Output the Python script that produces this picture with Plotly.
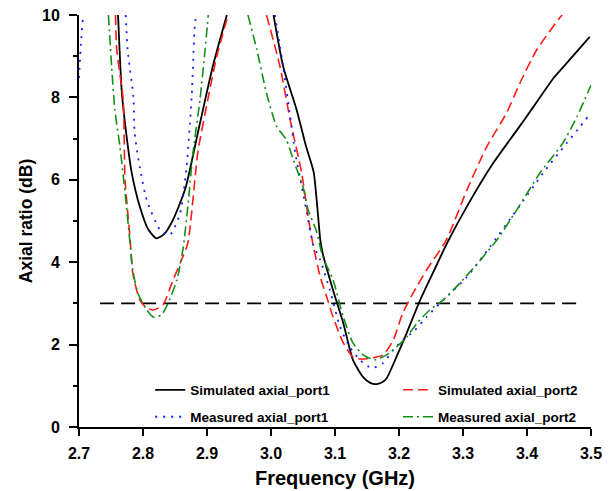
import plotly.graph_objects as go

# ---------------- data ----------------
sim1_f = [2.761, 2.767, 2.774, 2.782, 2.795, 2.808, 2.821, 2.833, 2.846, 2.857, 2.867, 2.888, 2.909, 2.931, None,
          3.004, 3.019, 3.040, 3.055, 3.063, 3.067, 3.072, 3.077, 3.081, 3.097, 3.113, 3.128, 3.144, 3.155,
          3.165, 3.175, 3.181, 3.196, 3.212, 3.233, 3.253, 3.275, 3.306, 3.347, 3.384, 3.410, 3.441, 3.462, 3.498]
sim1_ar = [10.0, 8.1, 7.1, 6.2, 5.35, 4.8, 4.58, 4.68, 5.0, 5.4, 5.83, 7.3, 8.75, 10.0, None,
           10.0, 8.75, 7.7, 6.8, 6.4, 6.16, 5.4, 4.54, 4.2, 3.32, 2.52, 1.63, 1.21, 1.07,
           1.04, 1.1, 1.19, 1.70, 2.28, 3.08, 3.74, 4.46, 5.35, 6.4, 7.2, 7.77, 8.46, 8.83, 9.47]

sim2_f = [2.757, 2.759, 2.769, 2.772, 2.780, 2.784, 2.795, 2.805, 2.816, 2.831, 2.847, 2.860, 2.870, 2.886,
          2.902, 2.915, 2.933, None,
          2.993, 3.014, 3.030, 3.048, 3.058, 3.066, 3.077, 3.087, 3.097, 3.113, 3.128, 3.140, 3.155, 3.175,
          3.191, 3.206, 3.222, 3.243, 3.274, 3.306, 3.337, 3.368, 3.389, 3.415, 3.452, 3.455]
sim2_ar = [10.0, 9.15, 7.94, 6.0, 4.54, 3.74, 3.08, 2.9, 2.84, 2.96, 3.57, 4.05, 4.46, 6.7,
           8.0, 8.98, 10.0, None,
           10.0, 8.75, 7.45, 6.16, 5.1, 4.4, 3.64, 3.16, 2.67, 2.04, 1.70, 1.65, 1.67, 1.75,
           2.11, 2.77, 3.25, 3.81, 4.54, 5.75, 6.8, 7.62, 8.35, 9.15, 9.95, 10.0]

meas1_f = [2.700, 2.703, 2.706, 2.707, None,
           2.773, 2.776, 2.785, 2.787, 2.795, 2.806, 2.827, 2.842, 2.858, 2.868, 2.876, 2.881, 2.883, None,
           3.006, 3.019, 3.030, 3.038, 3.050, 3.056, 3.066, 3.077, 3.092, 3.108, 3.123, 3.139, 3.157, 3.175,
           3.191, 3.206, 3.225, 3.243, 3.269, 3.306, 3.342, 3.384, 3.425, 3.462, 3.483, 3.495]
meas1_ar = [8.47, 9.3, 9.9, 10.0, None,
            10.0, 9.15, 8.0, 7.13, 6.3, 5.5, 4.78, 4.66, 5.19, 6.3, 8.0, 9.76, 10.0, None,
            10.0, 8.75, 7.53, 6.64, 5.68, 5.19, 4.42, 4.05, 3.32, 2.43, 1.94, 1.63, 1.43, 1.55,
            1.87, 2.11, 2.35, 2.67, 3.08, 3.64, 4.37, 5.27, 6.16, 6.89, 7.29, 7.53]

meas2_f = [2.746, 2.751, 2.756, 2.764, 2.772, 2.780, 2.784, 2.792, 2.806, 2.816, 2.829, 2.839, 2.853, 2.863,
           2.870, 2.878, 2.889, 2.897, 2.902, None,
           2.964, 2.978, 2.993, 3.009, 3.024, 3.035, 3.050, 3.058, 3.070, 3.081, 3.097, 3.113, 3.128, 3.144,
           3.162, 3.181, 3.196, 3.212, 3.228, 3.248, 3.269, 3.295, 3.327, 3.353, 3.384, 3.420, 3.456, 3.478,
           3.490, 3.500]
meas2_ar = [10.0, 8.75, 7.7, 6.8, 5.68, 4.42, 3.81, 3.25, 2.84, 2.67, 2.72, 3.0, 3.57, 4.37,
            5.35, 6.64, 7.94, 9.15, 10.0, None,
            10.0, 9.15, 8.1, 7.29, 6.97, 6.48, 5.83, 5.27, 4.8, 4.13, 3.57, 2.67, 2.04, 1.75,
            1.63, 1.75, 1.94, 2.18, 2.52, 2.84, 3.08, 3.49, 4.05, 4.54, 5.27, 6.16, 6.89, 7.53,
            7.94, 8.3]

ref_f = [2.733, 3.483]
ref_ar = [3.0, 3.0]

x_ticks = [2.7, 2.8, 2.9, 3.0, 3.1, 3.2, 3.3, 3.4, 3.5]
y_ticks = [0, 2, 4, 6, 8, 10]

FONT = "Arial, Liberation Sans, sans-serif"

fig = go.Figure()

fig.add_trace(go.Scatter(x=ref_f, y=ref_ar, mode="lines", showlegend=False,
                         line=dict(color="black", width=1.6, dash="14px,7px")))

series = [
    ("Simulated axial_port1", sim1_f, sim1_ar, dict(color="black", width=1.8), "legend"),
    ("Simulated axial_port2", sim2_f, sim2_ar, dict(color="#ff1a1a", width=1.6, dash="10px,5px"), "legend2"),
    ("Measured axial_port1", meas1_f, meas1_ar, dict(color="#1a1aff", width=1.8, dash="2px,6px"), "legend3"),
    ("Measured axial_port2", meas2_f, meas2_ar, dict(color="#13901a", width=1.6, dash="10px,4px,2px,4px"), "legend4"),
]
for name, xs, ys, ln, lg in series:
    ln = dict(ln, shape="spline", smoothing=0.6)
    fig.add_trace(go.Scatter(x=xs, y=ys, mode="lines", name=name, line=ln,
                             connectgaps=False, legend=lg))

leg_font = dict(family=FONT, size=13.5, color="black", weight="bold")
def leg(x, y):
    return dict(x=x, y=y, xanchor="left", yanchor="middle", bgcolor="rgba(0,0,0,0)",
                borderwidth=0, font=leg_font, itemwidth=30)

tick_font = dict(family=FONT, size=16, color="black", weight="bold")

fig.update_layout(
    width=616, height=491,
    margin=dict(l=79, r=25, t=15, b=64, autoexpand=False),
    paper_bgcolor="white", plot_bgcolor="white",
    legend=leg(0.139, 0.0898),
    legend2=leg(0.623, 0.0898),
    legend3=leg(0.139, 0.0243),
    legend4=leg(0.623, 0.0243),
    xaxis=dict(range=[2.7, 3.5], tickvals=x_ticks, ticktext=[f"{v:.1f}" for v in x_ticks],
               showgrid=False, zeroline=False, showline=True, linecolor="black", linewidth=2,
               ticks="outside", ticklen=7, tickwidth=1.5, tickcolor="black", automargin=False,
               ticklabeloverflow="allow", ticklabelstandoff=4,
               tickfont=tick_font,
               title=dict(text="Frequency (GHz)", standoff=10,
                          font=dict(family=FONT, size=20, color="black", weight="bold"))),
    yaxis=dict(range=[0, 10], tickvals=y_ticks, showgrid=False, zeroline=False,
               showline=True, linecolor="black", linewidth=2, automargin=False,
               ticklabeloverflow="allow", ticklabelstandoff=6,
               ticks="outside", ticklen=8, tickwidth=1.5, tickcolor="black",
               minor=dict(tickvals=[1, 3, 5, 7, 9], ticks="outside", ticklen=4, tickwidth=1.5,
                          tickcolor="black", showgrid=False),
               tickfont=tick_font,
               title=dict(text="Axial ratio (dB)", standoff=5,
                          font=dict(family=FONT, size=17.5, color="black", weight="bold"))),
)

fig.write_html("out.html", config={"displayModeBar": False},
               post_script="document.body.style.margin='0px';")
